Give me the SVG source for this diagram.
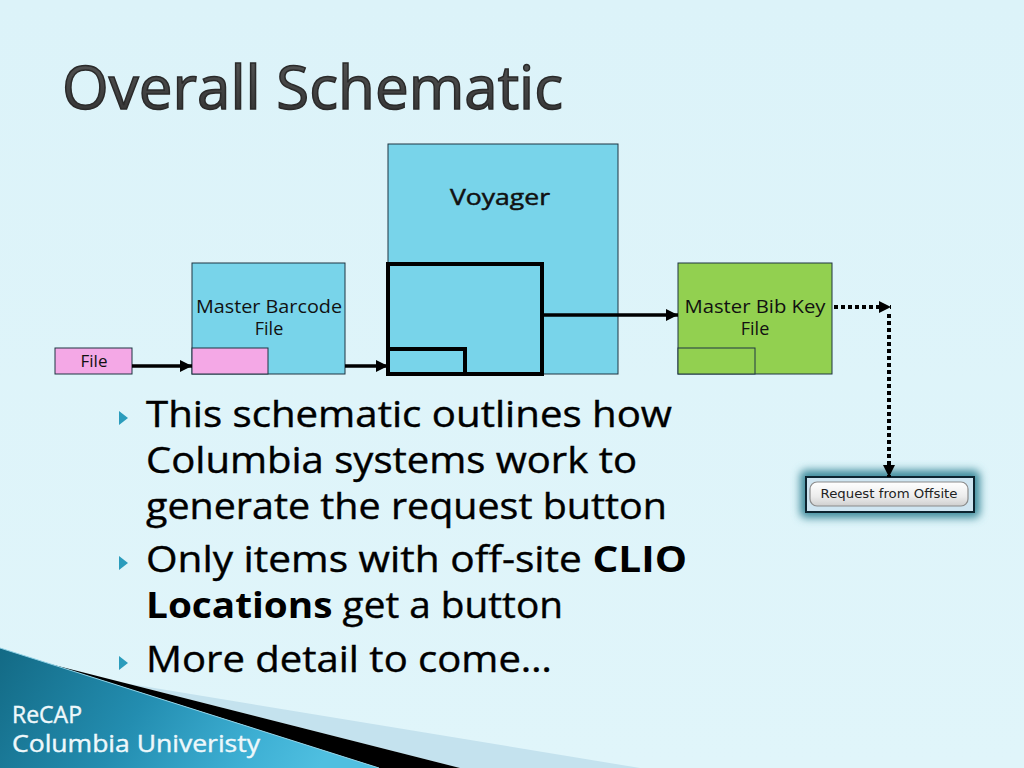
<svg xmlns="http://www.w3.org/2000/svg" width="1024" height="768" viewBox="0 0 1024 768">
<defs>
<style>
.box{stroke:#1e3442;stroke-width:1}
.blue{fill:#78d4ea}
.pink{fill:#f4a8e6}
.green{fill:#92d050}
.thick{fill:none;stroke:#000;stroke-width:4}
.lbl{font-family:"Open Sans","DejaVu Sans",sans-serif;fill:#111;text-anchor:middle}
.body{font-family:"Open Sans","DejaVu Sans",sans-serif;font-size:36px;fill:#000;stroke:#000;stroke-width:0.4}
.bul{fill:#2b9cbc}
.conn{stroke:#000;stroke-width:3.5;fill:none}
.dot{stroke:#000;stroke-width:4;fill:none;stroke-dasharray:4 3}
.foot{font-family:"Open Sans","DejaVu Sans",sans-serif;font-size:23px;fill:#eef8fb;stroke:#eef8fb;stroke-width:0.4}
</style>
<marker id="ah" viewBox="0 0 10 10" refX="10" refY="5" markerUnits="userSpaceOnUse" markerWidth="13" markerHeight="12" orient="auto">
<path d="M0,0 L10,5 L0,10 z" fill="#000"/>
</marker>
<marker id="ahd" viewBox="0 0 10 10" refX="10" refY="5" markerUnits="userSpaceOnUse" markerWidth="12" markerHeight="12" orient="auto">
<path d="M0,0 L10,5 L0,10 z" fill="#000"/>
</marker>
<linearGradient id="bg" x1="0" y1="0" x2="0" y2="1">
<stop offset="0" stop-color="#dcf3f9"/>
<stop offset="1" stop-color="#e0f5fa"/>
</linearGradient>
<linearGradient id="swoosh" x1="0" y1="0" x2="1" y2="0.2">
<stop offset="0" stop-color="#136a85"/>
<stop offset="0.45" stop-color="#238db0"/>
<stop offset="0.8" stop-color="#3eb0d4"/>
<stop offset="1" stop-color="#4fbfe0"/>
</linearGradient>
<linearGradient id="title" x1="0" y1="0" x2="0" y2="1">
<stop offset="0" stop-color="#5a5a5a"/>
<stop offset="1" stop-color="#2e2e2e"/>
</linearGradient>
<linearGradient id="btn" x1="0" y1="0" x2="0" y2="1">
<stop offset="0" stop-color="#ffffff"/>
<stop offset="0.6" stop-color="#ececec"/>
<stop offset="1" stop-color="#cfcfcf"/>
</linearGradient>
<filter id="glow" x="-20%" y="-50%" width="140%" height="200%">
<feGaussianBlur stdDeviation="4"/>
</filter>
</defs>

<rect x="0" y="0" width="1024" height="768" fill="url(#bg)"/>

<g id="title">
<text x="62" y="109" font-family="'Open Sans','DejaVu Sans',sans-serif" font-size="60" fill="url(#title)" stroke="#2a2a2a" stroke-width="1.5" textLength="501" lengthAdjust="spacingAndGlyphs">Overall Schematic</text>
</g>

<g id="node-voyager">
<rect class="box blue" x="388" y="144" width="230" height="230"/>
<text class="lbl" x="500" y="205" font-size="22" stroke="#111" stroke-width="0.5" textLength="100" lengthAdjust="spacingAndGlyphs">Voyager</text>
<rect class="thick" x="388" y="264" width="154" height="110"/>
<rect class="thick" x="388" y="349" width="77" height="25"/>
</g>

<g id="node-file">
<rect class="box pink" x="55" y="348" width="77" height="26"/>
<text class="lbl" x="94" y="367" font-size="17">File</text>
</g>

<g id="node-barcode">
<rect class="box blue" x="192" y="263" width="153" height="111"/>
<rect class="box pink" x="192" y="348" width="76" height="26"/>
<text class="lbl" x="269" y="313" font-size="18" textLength="146" lengthAdjust="spacingAndGlyphs">Master Barcode</text>
<text class="lbl" x="269" y="335" font-size="18">File</text>
</g>

<g id="node-bibkey">
<rect class="box green" x="678" y="263" width="154" height="111"/>
<rect class="box green" x="678" y="348" width="77" height="26"/>
<text class="lbl" x="755" y="313" font-size="18" textLength="141" lengthAdjust="spacingAndGlyphs">Master Bib Key</text>
<text class="lbl" x="755" y="335" font-size="18">File</text>
</g>

<g id="node-button">
<rect x="800" y="470" width="180" height="48" rx="6" fill="#3f8c9c" filter="url(#glow)"/>
<rect x="806" y="477" width="168" height="35" fill="#cfe5f1" stroke="#0c2430" stroke-width="2"/>
<rect x="810" y="482" width="158" height="24" rx="7" fill="url(#btn)" stroke="#8c8c8c" stroke-width="1.2"/>
<text x="889" y="498" font-family="'DejaVu Sans','Liberation Sans',sans-serif" font-size="12.5" fill="#222" text-anchor="middle" textLength="137" lengthAdjust="spacingAndGlyphs">Request from Offsite</text>
</g>

<g id="connectors">
<line class="conn" x1="132" y1="366" x2="192" y2="366" marker-end="url(#ah)"/>
<line class="conn" x1="345" y1="366" x2="388" y2="366" marker-end="url(#ah)"/>
<line class="conn" x1="542" y1="315" x2="678" y2="315" marker-end="url(#ah)"/>
<line class="dot" x1="834" y1="307" x2="891" y2="307" marker-end="url(#ahd)"/>
<line class="dot" x1="889" y1="314" x2="889" y2="477" marker-end="url(#ahd)"/>
</g>

<g id="bullets">
<polygon class="bul" points="119,411 128,418 119,425"/>
<polygon class="bul" points="119,556 128,563 119,570"/>
<polygon class="bul" points="119,656 128,663 119,670"/>
<text class="body" x="146" y="427" textLength="526" lengthAdjust="spacingAndGlyphs">This schematic outlines how</text>
<text class="body" x="146" y="473" textLength="491" lengthAdjust="spacingAndGlyphs">Columbia systems work to</text>
<text class="body" x="146" y="519" textLength="521" lengthAdjust="spacingAndGlyphs">generate the request button</text>
<text class="body" x="146" y="572" textLength="541" lengthAdjust="spacingAndGlyphs">Only items with off-site <tspan font-weight="bold" stroke-width="0">CLIO</tspan></text>
<text class="body" x="146" y="618" textLength="417" lengthAdjust="spacingAndGlyphs"><tspan font-weight="bold" stroke-width="0">Locations</tspan> get a button</text>
<text class="body" x="146" y="672" textLength="406" lengthAdjust="spacingAndGlyphs">More detail to come…</text>
</g>

<g id="footer">
<polygon points="127,683.5 640,768 460,768" fill="#c4e2ee"/>
<polygon points="50,664 460,768 379,768" fill="#000"/>
<polygon points="0,648 379,768 0,768" fill="url(#swoosh)"/>
<line x1="0" y1="648" x2="379" y2="768" stroke="#8fd0e4" stroke-width="1"/>
<text class="foot" x="12" y="723">ReCAP</text>
<text class="foot" x="12" y="752" textLength="248" lengthAdjust="spacingAndGlyphs">Columbia Univeristy</text>
</g>
</svg>
